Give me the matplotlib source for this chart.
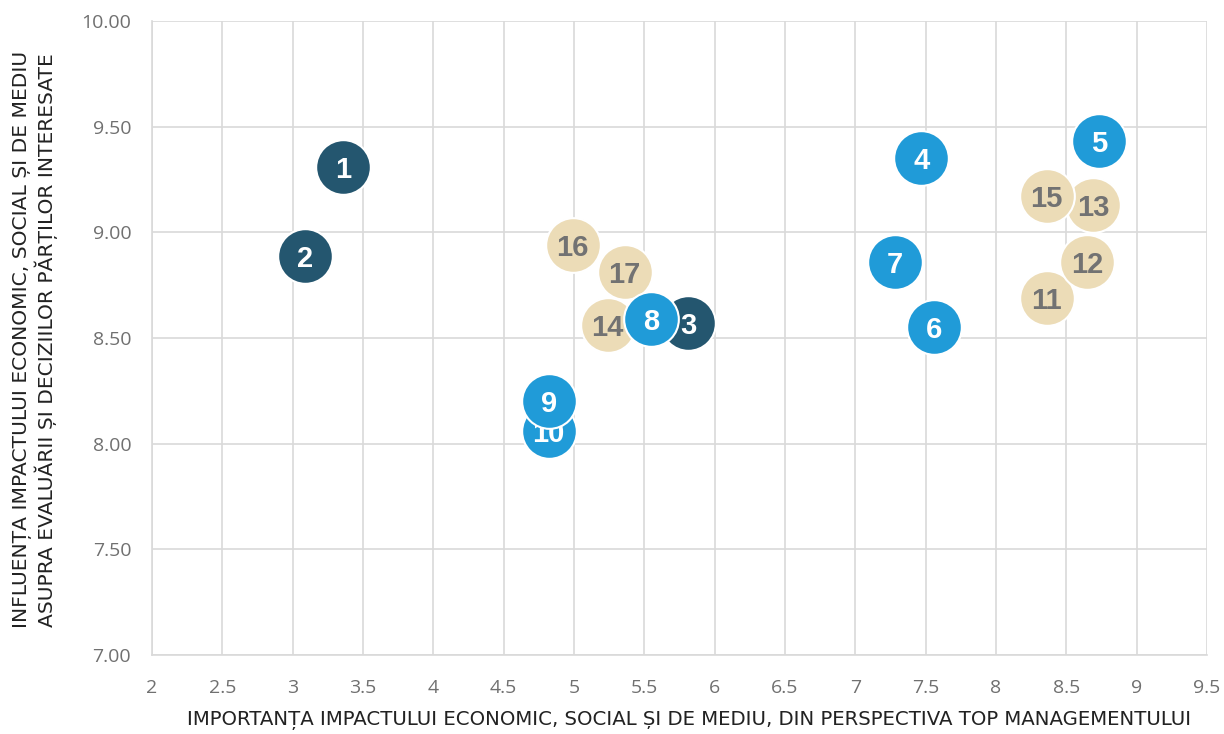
import matplotlib.pyplot as plt
from matplotlib.ticker import FormatStrFormatter, MultipleLocator

# valori
ids = list(range(1, 18))
x_top = [3.36, 3.09, 5.81, 7.47, 8.73, 7.56, 7.28, 5.55, 4.82, 4.82,
         8.36, 8.65, 8.69, 5.24, 8.36, 4.99, 5.36]
y_part = [9.31, 8.89, 8.57, 9.35, 9.43, 8.55, 8.86, 8.59, 8.20, 8.06,
          8.69, 8.86, 9.13, 8.56, 9.17, 8.94, 8.81]
grup = ["d", "d", "d", "b", "b", "b", "b", "b", "b", "b",
        "c", "c", "c", "c", "c", "c", "c"]

culori = {"d": "#24566f", "b": "#209bd8", "c": "#ecdcb7"}
culori_text = {"d": "white", "b": "white", "c": "#727272"}

# ordinea de desenare (ultimele sunt deasupra)
ordine = [11, 12, 13, 14, 15, 16, 17, 1, 2, 3, 10, 9, 8, 7, 6, 5, 4]

fig = plt.figure(figsize=(12.24, 7.34), dpi=100)
ax = fig.add_axes([0.1242, 0.1076, 0.8619, 0.8638])

for z, n in enumerate(ordine):
    i = n - 1
    ax.scatter(x_top[i], y_part[i], s=1550, color=culori[grup[i]],
               edgecolor="white", linewidth=1.5, zorder=3 + 2 * z)
    ax.text(x_top[i], y_part[i], str(n), ha="center", va="center_baseline",
            fontsize=21, fontweight="bold", color=culori_text[grup[i]],
            family="Liberation Sans", zorder=4 + 2 * z)

ax.set_xlim(2, 9.5)
ax.set_ylim(7, 10)
ax.xaxis.set_major_locator(MultipleLocator(0.5))
ax.yaxis.set_major_locator(MultipleLocator(0.5))
ax.yaxis.set_major_formatter(FormatStrFormatter("%.2f"))
ax.xaxis.set_major_formatter(plt.FuncFormatter(lambda v, p: f"{v:g}"))
ax.grid(True, color="#d9d9d9", linewidth=1.2, zorder=0)
ax.set_axisbelow(True)
for s in ["top", "right"]:
    ax.spines[s].set_visible(False)
for s in ["left", "bottom"]:
    ax.spines[s].set_color("#d9d9d9")
    ax.spines[s].set_linewidth(1.2)
ax.tick_params(length=0, labelsize=14, labelcolor="#707070")
ax.tick_params(axis="y", pad=15)
ax.tick_params(axis="x", pad=17)
for lab in ax.get_xticklabels() + ax.get_yticklabels():
    lab.set_family("Open Sans")

cond = ["DejaVu Sans"]
fig.text(0.563, 0.006, "IMPORTANȚA IMPACTULUI ECONOMIC, SOCIAL ȘI DE MEDIU, DIN PERSPECTIVA TOP MANAGEMENTULUI",
         ha="center", va="bottom", fontsize=14.2, color="#222222", family=cond)
fig.text(0.029, 0.537, "INFLUENȚA IMPACTULUI ECONOMIC, SOCIAL ȘI DE MEDIU\nASUPRA EVALUĂRII ȘI DECIZIILOR PĂRȚILOR INTERESATE",
         rotation=90, ha="center", va="center", fontsize=14.6, color="#222222",
         family=cond, linespacing=1.15)

plt.savefig("out.png", dpi=100)
